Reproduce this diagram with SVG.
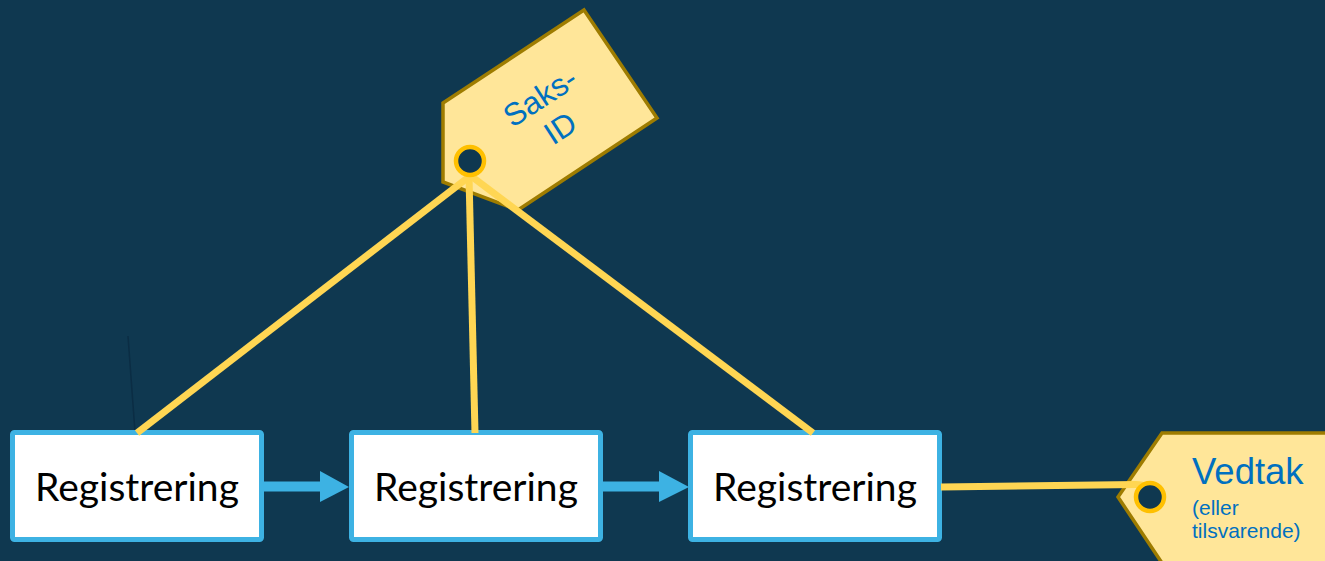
<svg xmlns="http://www.w3.org/2000/svg" width="1325" height="561" viewBox="0 0 1325 561">
  <defs>
    <style>
      .box { fill: #ffffff; stroke: #3db2e3; stroke-width: 5; }
      .box-label { font-family: Lato, "Open Sans", "Liberation Sans", sans-serif; font-size: 39px; fill: #000000; text-anchor: middle; }
      .flow { stroke: #3db2e3; stroke-width: 10; fill: none; }
      .flow-head { fill: #3db2e3; }
      .tag { fill: #ffe699; stroke: #9e7c00; stroke-width: 3.5; stroke-linejoin: miter; }
      .tie { stroke: #ffd653; stroke-width: 7; fill: none; stroke-linecap: butt; }
      .hole { fill: #0f3850; stroke: #ffc000; stroke-width: 4.5; }
      .tag-text { font-family: "Liberation Sans", Arial, sans-serif; fill: #0070c0; }
    </style>
  </defs>

  <!-- background -->
  <rect x="0" y="0" width="1325" height="561" fill="#0f3850"/>
  <line x1="128" y1="336" x2="135" y2="432" stroke="#0b2d44" stroke-width="1.5"/>

  <!-- process boxes -->
  <g id="registrering-1">
    <rect class="box" x="12.5" y="432.5" width="249" height="107" rx="2"/>
    <text class="box-label" x="137" y="501">Registrering</text>
  </g>
  <g id="registrering-2">
    <rect class="box" x="351.5" y="432.5" width="249" height="107" rx="2"/>
    <text class="box-label" x="476" y="501">Registrering</text>
  </g>
  <g id="registrering-3">
    <rect class="box" x="690.5" y="432.5" width="249" height="107" rx="2"/>
    <text class="box-label" x="815" y="501">Registrering</text>
  </g>

  <!-- case-id tag -->
  <g id="saks-id">
    <polygon class="tag" points="584,10 657,118 518,210 443,182 443,103"/>
    <g transform="translate(540,97) rotate(-33)">
      <text class="tag-text" x="0" y="11" font-size="31.5" text-anchor="middle">Saks-</text>
      <text class="tag-text" x="0" y="48" font-size="31.5" text-anchor="middle">ID</text>
    </g>
  </g>

  <!-- decision tag -->
  <g id="vedtak">
    <polygon class="tag" points="1162,433 1330,433 1330,563 1162,563 1118,497"/>
    <text class="tag-text" x="1192" y="484" font-size="36.5">Vedtak</text>
    <text class="tag-text" x="1192" y="515" font-size="21">(eller</text>
    <text class="tag-text" x="1192" y="538" font-size="21">tilsvarende)</text>
  </g>

  <!-- connectors -->
  <g id="connectors">
    <line class="flow" x1="264" y1="486.5" x2="322" y2="486.5"/>
    <polygon class="flow-head" points="320,471 349,487 320,502"/>
    <line class="flow" x1="603" y1="486.5" x2="661" y2="486.5"/>
    <polygon class="flow-head" points="659,471 689,487 659,502"/>

    <line class="tie" x1="470" y1="176" x2="137" y2="433"/>
    <line class="tie" x1="469" y1="176" x2="475" y2="433"/>
    <line class="tie" x1="471" y1="176" x2="813" y2="433"/>
    <path class="tie" d="M941,487 L1136,484.5 Q1148,484.5 1150,495"/>
  </g>

  <!-- tag holes -->
  <g id="saks-id-hole">
    <circle class="hole" cx="470" cy="161" r="14"/>
  </g>
  <g id="vedtak-hole">
    <circle class="hole" cx="1150" cy="497" r="14"/>
  </g>
</svg>
